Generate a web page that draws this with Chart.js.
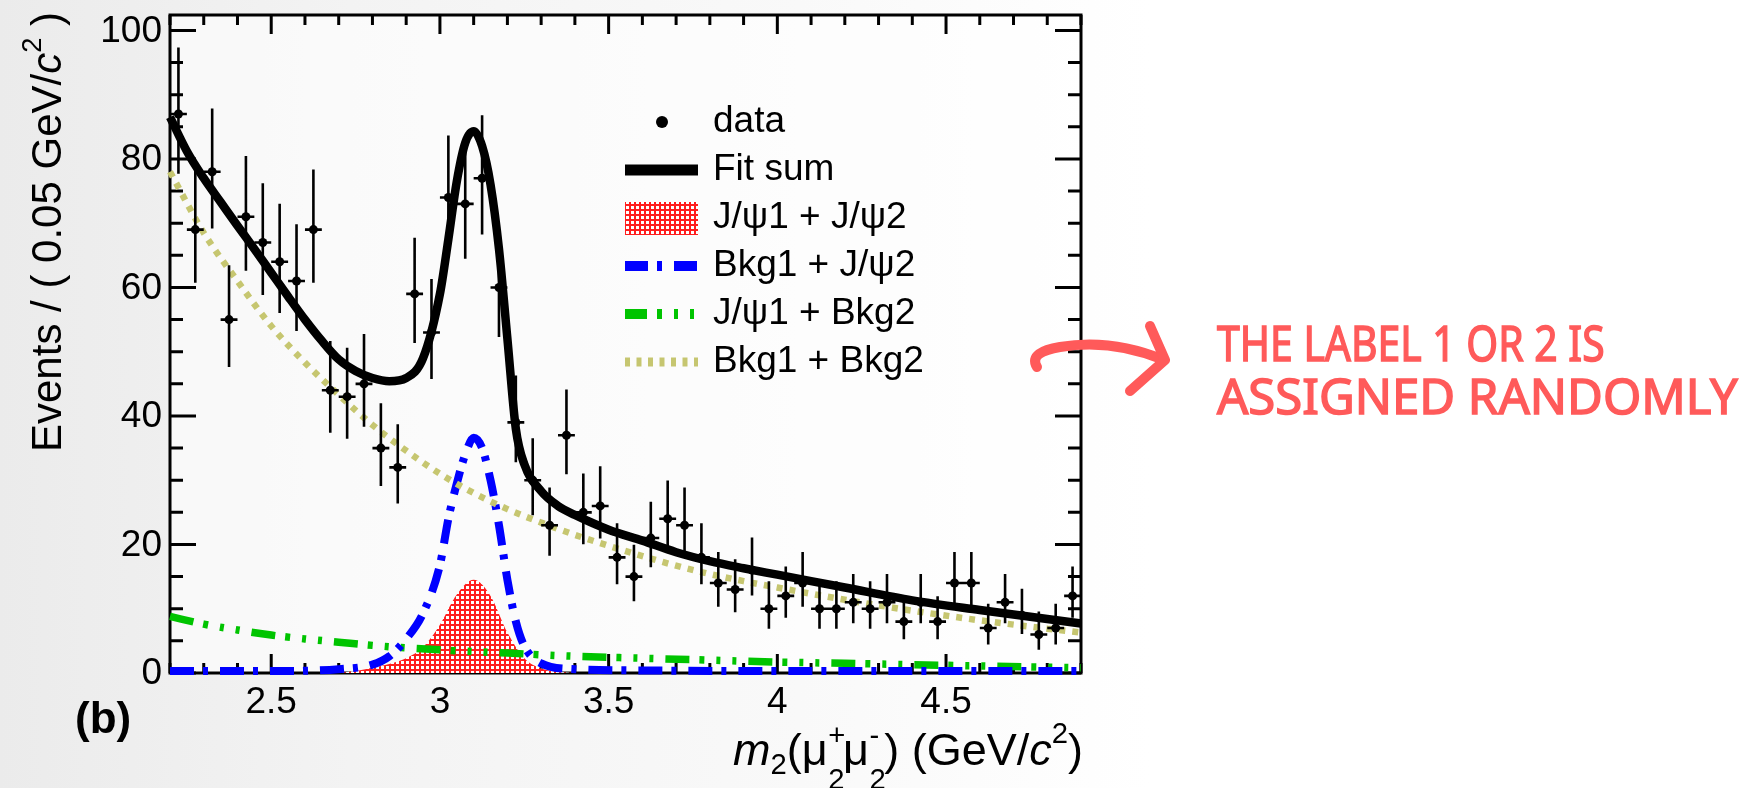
<!DOCTYPE html>
<html>
<head>
<meta charset="utf-8">
<script src="https://cdn.jsdelivr.net/npm/chart.js@4.4.1/dist/chart.umd.min.js"></script>
<style>
  html, body { margin: 0; padding: 0; }
  body { width: 1764px; height: 788px; overflow: hidden; }
  #wrap {
    position: relative; width: 1764px; height: 788px;
    background: linear-gradient(90deg, #ebebeb 0px, #f3f3f3 350px, #f9f9f9 800px, #ffffff 1150px);
    font-family: "Liberation Sans", Arial, sans-serif; color: #000;
  }
  #plot { position: absolute; left: 0; top: 0; }
  .title { position: absolute; white-space: nowrap; line-height: 1; }
  #ytitle { font-size: 42px; left: 26px; top: 440px; transform-origin: 0 0; transform: rotate(-90deg); }
  #xtitle { font-size: 45px; right: 681px; top: 727px; }
  #tag { font-size: 44px; font-weight: bold; left: 75px; top: 696px; }
  .sp { font-size: 0.65em; position: relative; top: -0.75em; }
  .sb { font-size: 0.65em; position: relative; top: 0.3em; }
  .st { display: inline-block; position: relative; width: 0.34em; }
  .st span { position: absolute; left: 0.02em; font-size: 0.65em; line-height: 1; }
  .st .up { bottom: 15px; }
  .st .dn { bottom: -29px; }
  #arrow { position: absolute; left: 0; top: 0; }
  .note {
    position: absolute; left: 1217px; white-space: nowrap; line-height: 1;
    font-family: "Noto Sans", sans-serif; font-size: 49px; color: #ff5a5a;
    -webkit-text-stroke: 1.5px #ff5a5a; transform-origin: 0 0;
  }
</style>
</head>
<body>
<div id="wrap">
  <canvas id="plot" width="1764" height="788"></canvas>
  <div class="title" id="ytitle">Events / ( 0.05 GeV/<i>c</i><span class="sp">2</span> )</div>
  <div class="title" id="xtitle"><i>m</i><span class="sb">2</span>(μ<span class="st"><span class="up">+</span><span class="dn">2</span></span>μ<span class="st"><span class="up">-</span><span class="dn">2</span></span>) (GeV/<i>c</i><span class="sp">2</span>)</div>
  <div class="title" id="tag">(b)</div>
  <svg id="arrow" width="1764" height="788">
    <path d="M1037 367 C1030 356 1042 350 1060 347 C1095 341 1130 346 1164 360" fill="none" stroke="#ff5a5a" stroke-width="10" stroke-linecap="round"/>
    <path d="M1150 326 L1165 360 L1130 391" fill="none" stroke="#ff5a5a" stroke-width="10" stroke-linecap="round" stroke-linejoin="round"/>
  </svg>
  <div class="note" id="note1" style="top:318px">THE LABEL 1 OR 2 IS</div>
  <div class="note" id="note2" style="top:371px">ASSIGNED RANDOMLY</div>
</div>
<script>
// dimuon mass m2 bins (GeV/c^2), 0.05 wide, and event counts
const massBins = [2.225, 2.275, 2.325, 2.375, 2.425, 2.475, 2.525, 2.575, 2.625, 2.675,
  2.725, 2.775, 2.825, 2.875, 2.925, 2.975, 3.025, 3.075, 3.125, 3.175,
  3.225, 3.275, 3.325, 3.375, 3.425, 3.475, 3.525, 3.575, 3.625, 3.675,
  3.725, 3.775, 3.825, 3.875, 3.925, 3.975, 4.025, 4.075, 4.125, 4.175,
  4.225, 4.275, 4.325, 4.375, 4.425, 4.475, 4.525, 4.575, 4.625, 4.675,
  4.725, 4.775, 4.825, 4.875];
const counts = [87, 69, 78, 55, 71, 67, 64, 61, 69, 44,
  43, 45, 35, 32, 59, 53, 74, 73, 77, 60,
  39, 30, 23, 37, 25, 26, 18, 15, 21, 24,
  23, 18, 14, 13, 16, 10, 12, 14, 10, 10,
  11, 10, 11, 8, 11, 8, 14, 14, 7, 11,
  9, 6, 7, 12];

// fit sum
const fitMass = [2.2, 2.25, 2.3, 2.35, 2.4, 2.45, 2.5, 2.55, 2.6, 2.65, 2.7, 2.75, 2.8, 2.85, 2.9, 2.95,
  3.0, 3.025, 3.05, 3.075, 3.1, 3.125, 3.15, 3.175, 3.2, 3.225, 3.25, 3.3, 3.35, 3.4,
  3.5, 3.6, 3.7, 3.8, 3.9, 4.0, 4.2, 4.4, 4.6, 4.8, 4.9];
const fitSum = [86.5, 81.2, 77, 73.3, 69.6, 66, 62.3, 58.6, 55, 51.7, 48.8, 47, 45.9, 45.4, 45.9, 49,
  59, 67.5, 76.5, 82.5, 84.3, 82, 76, 66, 52, 38, 32.5, 28.3, 26, 24.6,
  22.3, 20.6, 18.8, 17.4, 16.3, 15.3, 13.3, 11.3, 9.8, 8.4, 7.7];

// Bkg1 + Bkg2
const bkgMass = [2.2, 2.3, 2.4, 2.5, 2.6, 2.7, 2.8, 2.9, 3.0, 3.1, 3.2, 3.3, 3.4, 3.5, 3.6, 3.7,
  3.8, 3.9, 4.0, 4.2, 4.4, 4.6, 4.8, 4.9];
const bkgBkg = [78, 68.5, 61, 54, 48.3, 43.3, 38.6, 34.6, 31, 28, 25.5, 23.4, 21.5, 19.8, 18.2, 16.7,
  15.4, 14.3, 13.3, 11.4, 9.7, 8.2, 6.9, 6.3];

// Bkg1 + J/psi2
const bjMass = [2.2, 2.5, 2.7, 2.8, 2.85, 2.9, 2.95, 3.0, 3.025, 3.05, 3.075, 3.1, 3.125, 3.15,
  3.175, 3.2, 3.225, 3.25, 3.3, 3.4, 3.6, 4.0, 4.9];
const bkgJpsi = [0.3, 0.3, 0.6, 1.3, 2.6, 5.3, 9.3, 16.8, 24, 29.5, 34, 36.6, 35, 30,
  23, 14.5, 8, 4.2, 1.5, 0.6, 0.4, 0.3, 0.3];

// J/psi1 + Bkg2
const jbMass = [2.2, 2.3, 2.4, 2.5, 2.6, 2.7, 2.8, 2.9, 3.0, 3.2, 3.4, 3.6, 3.8, 4.0, 4.2, 4.4, 4.6, 4.8, 4.9];
const jpsiBkg = [8.8, 7.6, 6.7, 5.9, 5.3, 4.8, 4.3, 3.9, 3.6, 3.1, 2.6, 2.3, 2.0, 1.7, 1.5, 1.3, 1.1, 0.9, 0.8];

// J/psi1 + J/psi2
const jjMass = [2.7, 2.75, 2.8, 2.85, 2.9, 2.95, 3.0, 3.05, 3.1, 3.15, 3.2, 3.25, 3.3, 3.35, 3.4];
const jpsiJpsi = [0, 0.3, 0.8, 1.4, 2.3, 4, 7.5, 12.2, 14.5, 12, 6.3, 2.3, 0.7, 0.2, 0];

const xTicks = [2.5, 3, 3.5, 4, 4.5];
const xTickLabels = ['2.5', '3', '3.5', '4', '4.5'];
const yTicks = [0, 20, 40, 60, 80, 100];
const yTickLabels = ['0', '20', '40', '60', '80', '100'];
const legendLabels = ['data', 'Fit sum', 'J/\u03c81 + J/\u03c82', 'Bkg1 + J/\u03c82', 'J/\u03c81 + Bkg2', 'Bkg1 + Bkg2'];

const pts = (xs, ys) => xs.map((x, i) => ({ x: x, y: ys[i] }));

// asymmetric Poisson (Garwood) errors, as ROOT draws them for counts
function poissonErr(n) {
  const up = (n + 1) * Math.pow(1 - 1 / (9 * (n + 1)) + 1 / (3 * Math.sqrt(n + 1)), 3) - n;
  const lo = n === 0 ? 0 : n - n * Math.pow(1 - 1 / (9 * n) - 1 / (3 * Math.sqrt(n)), 3);
  return [lo, up];
}

const canvas = document.getElementById('plot');
const ctx = canvas.getContext('2d');

// red mesh with white holes for the J/psi J/psi component
const tile = document.createElement('canvas');
tile.width = 5; tile.height = 5;
const tg = tile.getContext('2d');
tg.fillStyle = '#ff1e1e';
tg.fillRect(0, 0, 5, 5);
tg.fillStyle = '#ffffff';
tg.fillRect(1, 1, 3, 3);
const hatch = ctx.createPattern(tile, 'repeat');

const olive = 'rgb(198,198,112)';
const blue = '#0000ff';
const green = '#00c400';
const blueDash = [24, 9, 5, 12];
const greenDash = [24, 10, 5, 12, 4, 12, 4, 12];
const oliveDash = [6, 7];

const errorBars = {
  id: 'errorBars',
  beforeDatasetDraw(chart, args) {
    if (chart.data.datasets[args.index].label !== 'data') return;
    const { ctx, scales: { x, y } } = chart;
    ctx.save();
    ctx.strokeStyle = '#000';
    ctx.lineWidth = 2.6;
    ctx.beginPath();
    massBins.forEach((m, i) => {
      const n = counts[i];
      const [lo, up] = poissonErr(n);
      const px = x.getPixelForValue(m);
      ctx.moveTo(px, y.getPixelForValue(n - lo));
      ctx.lineTo(px, y.getPixelForValue(n + up));
      const py = y.getPixelForValue(n);
      ctx.moveTo(x.getPixelForValue(m - 0.025), py);
      ctx.lineTo(x.getPixelForValue(m + 0.025), py);
    });
    ctx.stroke();
    ctx.restore();
  }
};

const frame = {
  id: 'frame',
  beforeDatasetsDraw(chart) {
    const { ctx, chartArea: a, scales: { x, y } } = chart;
    ctx.save();
    ctx.fillStyle = 'rgba(255,255,255,0.6)';
    ctx.fillRect(a.left, a.top, a.right - a.left, a.bottom - a.top);
    ctx.strokeStyle = '#000';
    ctx.lineWidth = 3;
    ctx.strokeRect(a.left, a.top, a.right - a.left, a.bottom - a.top);
    ctx.beginPath();
    for (let k = 22; k <= 49; k++) {
      const px = x.getPixelForValue(k / 10);
      const len = k % 5 === 0 ? 19 : 10;
      ctx.moveTo(px, a.bottom); ctx.lineTo(px, a.bottom - len);
      ctx.moveTo(px, a.top); ctx.lineTo(px, a.top + len);
    }
    for (let v = 0; v <= 100; v += 5) {
      const py = y.getPixelForValue(v);
      const len = v % 20 === 0 ? 26 : 13;
      ctx.moveTo(a.left, py); ctx.lineTo(a.left + len, py);
      ctx.moveTo(a.right, py); ctx.lineTo(a.right - len, py);
    }
    ctx.stroke();
    ctx.fillStyle = '#000';
    ctx.font = '37px "Liberation Sans", Arial, sans-serif';
    ctx.textAlign = 'center';
    ctx.textBaseline = 'alphabetic';
    xTicks.forEach((v, i) => ctx.fillText(xTickLabels[i], x.getPixelForValue(v), 713));
    ctx.textAlign = 'right';
    ctx.textBaseline = 'middle';
    yTicks.forEach((v, i) => ctx.fillText(yTickLabels[i], a.left - 8, y.getPixelForValue(v) + 1));
    ctx.restore();
  }
};

const legendBox = {
  id: 'legendBox',
  afterDatasetsDraw(chart) {
    const ctx = chart.ctx;
    const x0 = 625, x1 = 698, tx = 713;
    ctx.save();
    legendLabels.forEach((label, i) => {
      const cy = 122 + 48 * i;
      ctx.setLineDash([]);
      ctx.lineCap = 'butt';
      if (i === 0) {
        ctx.fillStyle = '#000';
        ctx.beginPath();
        ctx.arc(662, cy, 6, 0, Math.PI * 2);
        ctx.fill();
      } else if (i === 2) {
        ctx.fillStyle = hatch;
        ctx.fillRect(x0, cy - 16, x1 - x0, 33);
      } else {
        const style = [null, ['#000', [], 11], null, [blue, [23, 9, 5, 12], 10], [green, [22, 10, 5, 12, 4, 12, 4, 12], 10], [olive, [5, 6.5], 9]][i];
        ctx.strokeStyle = style[0];
        ctx.setLineDash(style[1]);
        ctx.lineWidth = style[2];
        ctx.beginPath();
        ctx.moveTo(x0, cy);
        ctx.lineTo(x1, cy);
        ctx.stroke();
      }
      ctx.fillStyle = '#000';
      ctx.font = '37px "Liberation Sans", Arial, sans-serif';
      ctx.textAlign = 'left';
      ctx.textBaseline = 'alphabetic';
      ctx.fillText(label, tx, cy + 10);
    });
    ctx.restore();
  }
};

const curve = (label, xs, ys, color, width, dash) => ({
  label: label,
  type: 'line',
  data: pts(xs, ys),
  borderColor: color,
  borderWidth: width,
  borderDash: dash,
  pointRadius: 0,
  cubicInterpolationMode: 'monotone',
  fill: false,
  clip: 8
});

new Chart(ctx, {
  type: 'scatter',
  data: {
    datasets: [
      curve('Fit sum', fitMass, fitSum, '#000', 8.5, []),
      {
        label: 'data',
        data: pts(massBins, counts),
        pointRadius: 4.5,
        pointBackgroundColor: '#000',
        pointBorderWidth: 0,
        showLine: false,
        clip: 8
      },
      curve('Bkg1 + Bkg2', bkgMass, bkgBkg, olive, 6.5, oliveDash),
      curve('Bkg1 + J/\u03c82', bjMass, bkgJpsi, blue, 8, blueDash),
      curve('J/\u03c81 + Bkg2', jbMass, jpsiBkg, green, 7.5, greenDash),
      {
        label: 'J/\u03c81 + J/\u03c82',
        type: 'line',
        data: pts(jjMass, jpsiJpsi),
        borderWidth: 0,
        borderColor: 'rgba(0,0,0,0)',
        backgroundColor: hatch,
        pointRadius: 0,
        cubicInterpolationMode: 'monotone',
        fill: 'origin'
      }
    ]
  },
  options: {
    responsive: false,
    devicePixelRatio: 1,
    animation: false,
    events: [],
    layout: { padding: { left: 170, right: 683, top: 15, bottom: 115 } },
    plugins: { legend: { display: false }, tooltip: { enabled: false } },
    scales: {
      x: { type: 'linear', min: 2.2, max: 4.9, display: false },
      y: { type: 'linear', min: 0, max: 102.4, display: false }
    }
  },
  plugins: [frame, errorBars, legendBox]
});

// y title: right end of the rotated text sits at the top of the axis
const yt = document.getElementById('ytitle');
yt.style.top = (12 + yt.offsetWidth) + 'px';

// squeeze the hand-lettered note to its line widths
[['note1', 388], ['note2', 521]].forEach(([id, w]) => {
  const el = document.getElementById(id);
  el.style.transform = 'scaleX(' + (w / el.offsetWidth) + ')';
});
</script>
</body>
</html>
